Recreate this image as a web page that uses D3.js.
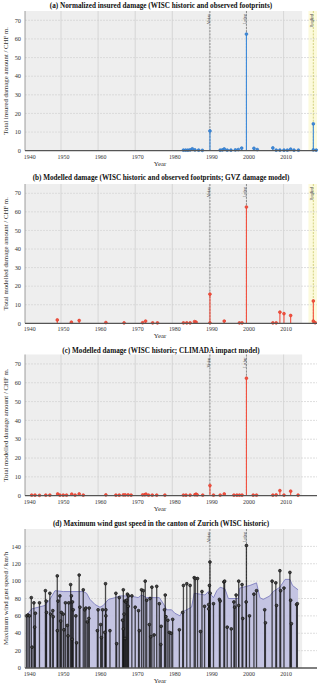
<!DOCTYPE html>
<html>
<head>
<meta charset="utf-8">
<script src="https://cdn.jsdelivr.net/npm/d3@7"></script>
<style>
  body { margin: 0; background: #fff; }
  svg text { font-family: "Liberation Serif", "DejaVu Serif", serif; }
</style>
</head>
<body>
<div id="chart"></div>
<script>

// decade ticks on the time axis
var xTicks = [1940, 1950, 1960, 1970, 1980, 1990, 2000, 2010];

// named storms (vertical marker lines)
var stormNames = ["Vivian", "Lothar", "Burglind"];
var stormYears = [1990.15, 1999.98, 2018.01];

// (a) normalized insured damage, CHF m.
var yearsA = [1983.0, 1983.6, 1984.2, 1984.8, 1985.4, 1986.1, 1987.1, 1988.1, 1990.15, 1992.9,
    1993.5, 1994.0, 1994.8, 1995.8, 1997.0, 1997.8, 1998.7, 1999.98, 2002.0, 2002.9,
    2007.1, 2008.0, 2009.0, 2010.1, 2011.0, 2011.9, 2012.8, 2014.0, 2018.01, 2018.01, 2018.8];
var valuesA = [0.3, 0.3, 0.3, 0.4, 1.0, 0.4, 0.3, 0.2, 10.6, 0.3,
    0.4, 0.9, 0.3, 0.3, 0.4, 0.6, 1.4, 62.6, 1.3, 0.6,
    1.5, 0.3, 0.3, 0.3, 0.3, 0.8, 0.3, 0.3, 14.4, 0.4, 0.3];

// (b) modelled damage, GVZ damage model, CHF m.
var yearsB = [1949.0, 1952.8, 1954.9, 1962.1, 1967.0, 1972.0, 1972.8, 1974.7, 1976.0, 1983.0,
    1983.9, 1984.8, 1986.0, 1986.4, 1990.15, 1990.15, 1994.0, 1998.1, 1998.8, 1999.98,
    2007.1, 2008.0, 2009.0, 2010.1, 2011.9, 2018.01, 2018.01, 2018.5];
var valuesB = [1.8, 0.6, 1.5, 0.4, 0.2, 0.3, 1.2, 0.2, 0.2, 0.2,
    0.2, 0.2, 0.9, 0.6, 15.7, 0.2, 1.2, 0.2, 0.2, 62.6,
    0.2, 0.2, 6.0, 5.2, 4.2, 12.0, 1.2, 0.3];

// (c) modelled damage, CLIMADA impact model, CHF m.
var yearsC = [1942.1, 1943.0, 1944.2, 1945.9, 1947.0, 1949.1, 1949.7, 1950.6, 1951.5, 1952.9,
    1953.8, 1954.9, 1956.0, 1962.1, 1964.8, 1965.7, 1966.8, 1967.3, 1968.1, 1968.9,
    1972.0, 1972.6, 1972.9, 1973.6, 1974.6, 1975.8, 1978.0, 1983.0, 1983.7, 1984.8,
    1986.1, 1986.4, 1986.7, 1988.2, 1990.15, 1991.1, 1992.9, 1994.0, 1996.6, 1997.4,
    1998.1, 1998.8, 1999.98, 2001.8, 2002.7, 2007.1, 2008.0, 2009.0, 2010.1, 2011.9, 2013.9];
var valuesC = [0.3, 0.3, 0.2, 0.3, 0.3, 0.9, 0.3, 0.3, 0.3, 0.8,
    0.3, 0.9, 0.3, 0.4, 0.3, 0.3, 0.4, 0.4, 0.4, 0.3,
    0.4, 0.5, 0.8, 0.3, 0.3, 0.3, 0.3, 0.3, 0.3, 0.3,
    0.5, 0.8, 0.4, 0.3, 5.4, 0.3, 0.3, 0.9, 0.3, 0.3,
    0.3, 0.3, 62.4, 0.3, 0.3, 0.3, 0.4, 2.7, 0.3, 2.4, 0.3];

// (d) maximum wind gust speed per storm, km/h
var yearsD = [1940.7, 1941.1, 1941.5, 1942.0, 1942.2, 1942.7, 1942.9, 1943.1, 1944.2, 1945.8,
    1946.0, 1946.1, 1947.0, 1947.2, 1947.8, 1947.9, 1949.0, 1949.0, 1949.2, 1949.7,
    1949.9, 1950.1, 1950.6, 1950.8, 1951.2, 1951.7, 1951.9, 1952.1, 1952.6, 1952.8,
    1953.0, 1953.1, 1953.3, 1954.0, 1954.2, 1954.9, 1955.1, 1956.0, 1956.4, 1956.7,
    1957.1, 1957.5, 1957.6, 1959.8, 1960.0, 1960.7, 1960.9, 1961.2, 1961.8, 1962.0,
    1962.1, 1962.1, 1963.2, 1964.8, 1965.0, 1965.7, 1966.6, 1966.8, 1966.8, 1967.0,
    1967.2, 1967.3, 1967.5, 1967.7, 1967.9, 1968.1, 1968.2, 1969.1, 1970.0, 1970.9,
    1971.1, 1971.7, 1972.2, 1972.7, 1973.1, 1973.8, 1974.0, 1974.2, 1974.5, 1975.1,
    1975.8, 1976.5, 1976.9, 1977.0, 1977.9, 1978.1, 1978.3, 1978.8, 1979.2, 1979.7,
    1980.1, 1981.9, 1982.8, 1983.0, 1983.9, 1984.8, 1985.9, 1986.2, 1986.8, 1987.6,
    1988.0, 1988.7, 1989.8, 1989.8, 1990.15, 1990.0, 1990.2, 1991.1, 1992.7, 1992.9,
    1993.9, 1994.1, 1994.8, 1995.9, 1996.6, 1996.8, 1997.2, 1997.9, 1997.9, 1998.8,
    1999.0, 1999.98, 1999.9, 2000.8, 2002.0, 2002.7, 2004.9, 2005.1, 2006.9, 2007.9,
    2008.1, 2009.0, 2009.2, 2010.1, 2011.7, 2011.9, 2012.1, 2013.5, 2013.7];
var valuesD = [60, 61, 60, 81, 24, 75, 47, 63, 75, 89,
    77, 64, 86, 62, 66, 59, 106, 43, 77, 83,
    54, 64, 62, 44, 75, 49, 37, 75, 96, 83,
    33, 76, 67, 60, 29, 107, 70, 90, 67, 69,
    53, 57, 69, 43, 67, 50, 35, 67, 41, 97,
    67, 60, 43, 86, 28, 81, 55, 90, 45, 62,
    77, 34, 76, 78, 85, 71, 83, 83, 70, 66,
    43, 90, 89, 100, 78, 50, 80, 36, 93, 38,
    94, 74, 27, 48, 67, 84, 59, 55, 41, 40,
    56, 44, 64, 95, 97, 95, 104, 103, 103, 42,
    88, 71, 73, 68, 122, 95, 86, 74, 79, 77,
    99, 100, 47, 45, 76, 70, 84, 100, 72, 96,
    57, 141, 76, 60, 85, 89, 67, 52, 100, 98,
    72, 112, 89, 92, 110, 78, 51, 73, 74];

// shaded envelope behind the gust lollipops
var envYears = [1940.6, 1942.1, 1945.7, 1947.0, 1948.4, 1950.6, 1956.0, 1956.9, 1957.8, 1959.2,
    1960.5, 1961.4, 1962.8, 1964.6, 1965.9, 1968.6, 1970.8, 1971.7, 1973.1, 1976.5,
    1977.6, 1978.5, 1979.8, 1980.7, 1982.1, 1982.5, 1983.4, 1985.2, 1985.9, 1987.5,
    1988.8, 1989.7, 1991.1, 1992.0, 1992.9, 1994.2, 1995.1, 1997.8, 1998.2, 2000.9,
    2002.7, 2003.6, 2004.5, 2006.3, 2007.2, 2009.0, 2010.4, 2011.7, 2012.4, 2013.9];
var envValues = [60, 68, 72, 79, 89, 88, 88, 86, 79, 73,
    70, 72, 79, 81, 83, 83, 81, 84, 81, 81,
    74, 67, 67, 63, 60, 64, 66, 70, 86, 85,
    84, 88, 81, 89, 93, 91, 80, 80, 92, 95,
    98, 81, 79, 83, 88, 93, 102, 102, 95, 90];


var x = d3.scaleLinear().domain([1940.3, 2019]).range([25, 317]);

var svg = d3.select("#chart")
    .append("svg")
    .attr("width", 320)
    .attr("height", 685);

function zip(xs, ys) {
    return xs.map(function(d, i) { return {year: d, value: ys[i]}; });
}

function drawPanel(p) {
    var g = svg.append("g");
    var y = d3.scaleLinear().domain([0, p.yMax]).range([p.bottom, p.top]);
    var yTicks = d3.range(0, p.yMax, p.yStep);

    // grey plotting area up to 2015, white after
    g.append("rect")
        .attr("x", x(1940.3))
        .attr("y", p.top)
        .attr("width", x(2015) - x(1940.3))
        .attr("height", p.bottom - p.top)
        .attr("fill", "#eeeeee");

    if (p.band) {
        g.append("rect")
            .attr("x", x(2016.7))
            .attr("y", p.top)
            .attr("width", x(2019) - x(2016.7))
            .attr("height", p.bottom - p.top)
            .attr("fill", "#fcfadc");
    }

    // horizontal grid
    g.selectAll(".hgrid")
        .data(yTicks.slice(1))
        .enter()
        .append("line")
        .attr("x1", x(1940.3))
        .attr("x2", x(2019))
        .attr("y1", function(d) { return y(d); })
        .attr("y2", function(d) { return y(d); })
        .attr("stroke", "#d6d6d6")
        .attr("stroke-width", 0.8)
        .attr("stroke-dasharray", "2,1");

    // vertical grid
    g.selectAll(".vgrid")
        .data(xTicks.slice(1))
        .enter()
        .append("line")
        .attr("x1", function(d) { return x(d); })
        .attr("x2", function(d) { return x(d); })
        .attr("y1", p.top)
        .attr("y2", p.bottom)
        .attr("stroke", "#d0d0d0")
        .attr("stroke-width", 0.8);

    // storm marker lines
    p.storms.forEach(function(i) {
        var sx = x(stormYears[i]);
        g.append("line")
            .attr("x1", sx).attr("x2", sx)
            .attr("y1", p.top).attr("y2", p.bottom)
            .attr("stroke", i === 2 ? "#c9c96a" : "#777")
            .attr("stroke-width", 0.8)
            .attr("stroke-dasharray", "2,1.2");
        g.append("text")
            .attr("transform", "translate(" + (sx - 0.4) + "," + (p.top + 3) + ") rotate(-90)")
            .attr("text-anchor", "end")
            .attr("font-size", "3.8px")
            .attr("fill", "#444")
            .text(stormNames[i]);
    });

    if (p.env) {
        var area = d3.area()
            .x(function(d) { return x(d.year); })
            .y0(p.bottom)
            .y1(function(d) { return y(d.value); });
        var line = d3.line()
            .x(function(d) { return x(d.year); })
            .y(function(d) { return y(d.value); });
        g.append("path")
            .datum(p.env)
            .attr("d", area)
            .attr("fill", "#bfbfe0")
            .attr("fill-opacity", 0.9);
        g.append("path")
            .datum(p.env)
            .attr("d", line)
            .attr("fill", "none")
            .attr("stroke", "#7e7ec0")
            .attr("stroke-width", 0.9);
    }

    // lollipop stems
    g.selectAll(".stem")
        .data(p.data)
        .enter()
        .append("line")
        .attr("x1", function(d) { return x(d.year); })
        .attr("x2", function(d) { return x(d.year); })
        .attr("y1", p.bottom)
        .attr("y2", function(d) { return y(d.value); })
        .attr("stroke", p.stem)
        .attr("stroke-opacity", p.stemOpacity)
        .attr("stroke-width", p.stemWidth);

    g.selectAll(".dot")
        .data(p.data)
        .enter()
        .append("circle")
        .attr("cx", function(d) { return x(d.year); })
        .attr("cy", function(d) { return y(d.value); })
        .attr("r", p.r)
        .attr("fill", p.fill)
        .attr("stroke", p.stroke)
        .attr("stroke-width", 0.7);

    // axes
    g.append("line")
        .attr("x1", x(1940.3)).attr("x2", x(1940.3))
        .attr("y1", p.top).attr("y2", p.bottom)
        .attr("stroke", "#777")
        .attr("stroke-width", 0.7);
    g.append("line")
        .attr("x1", x(1940.3)).attr("x2", x(2019))
        .attr("y1", p.bottom).attr("y2", p.bottom)
        .attr("stroke", "#555")
        .attr("stroke-width", 1.3);

    g.selectAll(".ylab")
        .data(yTicks)
        .enter()
        .append("text")
        .attr("x", 21)
        .attr("y", function(d) { return y(d) + 2.2; })
        .attr("text-anchor", "end")
        .attr("font-size", "6.3px")
        .attr("fill", "#333")
        .text(function(d) { return d; });

    g.selectAll(".xlab")
        .data(xTicks)
        .enter()
        .append("text")
        .attr("x", function(d) { return Math.max(x(d) + 2.5, 29.7); })
        .attr("y", p.bottom + 7.8)
        .attr("text-anchor", "middle")
        .attr("font-size", "5.9px")
        .attr("fill", "#333")
        .text(function(d) { return d; });

    g.append("text")
        .attr("x", 160)
        .attr("y", p.bottom + 14.8)
        .attr("text-anchor", "middle")
        .attr("font-size", "6.8px")
        .attr("fill", "#333")
        .text("Year");

    g.append("text")
        .attr("transform", "translate(8," + ((p.top + p.bottom) / 2) + ") rotate(-90)")
        .attr("text-anchor", "middle")
        .attr("font-size", "6.8px")
        .attr("fill", "#333")
        .text(p.yLabel);

    g.append("text")
        .attr("x", 161)
        .attr("y", p.titleY)
        .attr("text-anchor", "middle")
        .attr("font-size", "7.2px")
        .attr("font-weight", "bold")
        .attr("fill", "#111")
        .text(p.title);
}

drawPanel({
    title: "(a) Normalized insured damage (WISC historic and observed footprints)",
    yLabel: "Total insured damage amount / CHF m.",
    titleY: 8, top: 11, bottom: 150.7, yMax: 75, yStep: 10,
    data: zip(yearsA, valuesA), storms: [0, 1, 2], band: true,
    stem: "#3d8bdc", stemOpacity: 1, stemWidth: 1.1, r: 1.4, fill: "#3d8bdc", stroke: "#2f76c4"
});

drawPanel({
    title: "(b) Modelled damage (WISC historic and observed footprints; GVZ damage model)",
    yLabel: "Total modelled damage amount / CHF m.",
    titleY: 179.5, top: 184, bottom: 323.3, yMax: 75, yStep: 10,
    data: zip(yearsB, valuesB), storms: [0, 1, 2], band: true,
    stem: "#f4503f", stemOpacity: 1, stemWidth: 1.1, r: 1.4, fill: "#f4503f", stroke: "#e0402f"
});

drawPanel({
    title: "(c) Modelled damage (WISC historic; CLIMADA impact model)",
    yLabel: "Total modelled damage amount / CHF m.",
    titleY: 353, top: 354.5, bottom: 495.7, yMax: 75, yStep: 10,
    data: zip(yearsC, valuesC), storms: [0, 1], band: false,
    stem: "#f4503f", stemOpacity: 1, stemWidth: 1.1, r: 1.4, fill: "#f4503f", stroke: "#e0402f"
});

drawPanel({
    title: "(d) Maximum wind gust speed in the canton of Zurich (WISC historic)",
    yLabel: "Maximum wind gust speed / km/h",
    titleY: 525.5, top: 529, bottom: 668, yMax: 160, yStep: 20,
    data: zip(yearsD, valuesD), storms: [0, 1], band: false,
    env: zip(envYears, envValues),
    stem: "#111", stemOpacity: 0.75, stemWidth: 1.3, r: 1.4, fill: "#444", stroke: "#111"
});

</script>
</body>
</html>
